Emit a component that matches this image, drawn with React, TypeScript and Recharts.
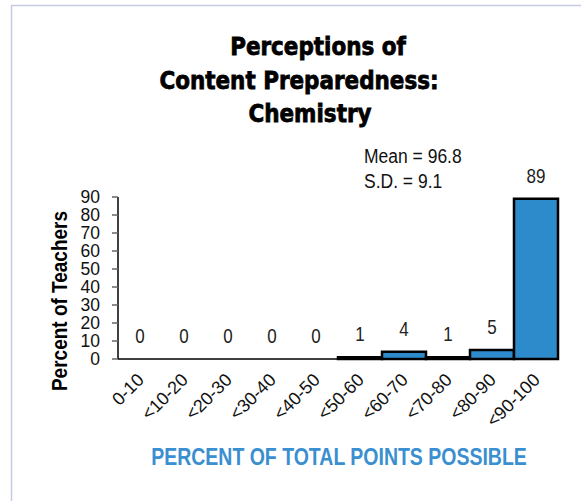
import React from 'react';
import { ComposedChart, Bar, Line, XAxis, YAxis, LabelList } from 'recharts';

const categories = ['0-10', '<10-20', '<20-30', '<30-40', '<40-50', '<50-60', '<60-70', '<70-80', '<80-90', '<90-100'];
const percentTeachers = [0, 0, 0, 0, 0, 1, 4, 1, 5, 89];
const yTicks = [0, 10, 20, 30, 40, 50, 60, 70, 80, 90];
const titleLines = ['Perceptions of', 'Content Preparedness:', 'Chemistry'];
const statLines = ['Mean = 96.8', 'S.D. = 9.1'];
const yLabel = 'Percent of Teachers';
const xLabel = 'PERCENT OF TOTAL POINTS POSSIBLE';

const data = categories.map((c, i) => ({ range: c, value: percentTeachers[i] }));

const FONT = '"Liberation Sans", Arial, sans-serif';
const SY = 1.2;

const XTick = (props: any) => {
  const { x, y, payload } = props;
  const ax = x + 5;
  const ay = y + 14;
  return (
    <text
      x={ax}
      y={ay}
      transform={`rotate(-45, ${ax}, ${ay})`}
      textAnchor="end"
      fontFamily={FONT}
      fontSize={18}
      fill="#111"
    >
      {payload.value}
    </text>
  );
};

const PointValue = (props: any) => {
  const { x, y, value } = props;
  const cx = Number(x);
  const by = Number(y) - 16;
  return (
    <text
      transform={`translate(${cx}, ${by}) scale(1, ${SY})`}
      x={0}
      y={0}
      textAnchor="middle"
      fontFamily={FONT}
      fontSize={17}
      fill="#222"
    >
      {String(value)}
    </text>
  );
};

export default function App() {
  const titleX = [318, 299, 310];
  const titleY = [55, 89, 122];
  return (
    <div style={{ position: 'absolute', left: 0, top: 0, width: 581, height: 501, background: '#fff' }}>
      <ComposedChart
        width={581}
        height={501}
        data={data}
        barCategoryGap={0}
        margin={{ top: 197, right: 23, bottom: 82, left: 0 }}
      >
        <XAxis
          dataKey="range"
          height={60}
          interval={0}
          tickLine={false}
          axisLine={{ stroke: '#000', strokeWidth: 1.3 }}
          tick={<XTick />}
        />
        <YAxis
          width={118}
          domain={[0, 90]}
          ticks={yTicks}
          interval={0}
          tickSize={6}
          tickMargin={12}
          tickLine={{ stroke: '#666', strokeWidth: 1.5 }}
          axisLine={{ stroke: '#000', strokeWidth: 1.5 }}
          tick={{ fontFamily: FONT, fontSize: 17.5, fill: '#111' }}
        />
        <Bar dataKey="value" fill="#2E8BCB" stroke="#000" strokeWidth={2.5} isAnimationActive={false} />
        <Line
          dataKey="value"
          stroke="none"
          dot={false}
          activeDot={false}
          legendType="none"
          isAnimationActive={false}
        >
          <LabelList dataKey="value" content={<PointValue />} />
        </Line>
      </ComposedChart>
      <svg
        width={581}
        height={501}
        style={{ position: 'absolute', left: 0, top: 0, pointerEvents: 'none' }}
      >
        <line x1={11.5} y1={5} x2={11.5} y2={501} stroke="#C4CCE4" strokeWidth={1.5} />
        <line x1={11} y1={5.5} x2={581} y2={5.5} stroke="#C4CCE4" strokeWidth={1.5} />
        {titleLines.map((t, i) => (
          <text
            key={t}
            transform={`translate(${titleX[i]}, ${titleY[i]}) scale(1, 1.15)`}
            x={0}
            y={0}
            textAnchor="middle"
            fontFamily='"DejaVu Sans", sans-serif'
            fontWeight={900}
            fontSize={21.5}
            fill="#000"
            stroke="#000"
            strokeWidth={0.7}
          >
            {t}
          </text>
        ))}
        {statLines.map((t, i) => (
          <text
            key={t}
            transform={`translate(364, ${163 + i * 25}) scale(1, ${SY})`}
            x={0}
            y={0}
            fontFamily={FONT}
            fontSize={17.5}
            fill="#111"
          >
            {t}
          </text>
        ))}
        <text
          x={0}
          y={0}
          transform={`translate(67, 301) rotate(-90) scale(1, ${SY})`}
          textAnchor="middle"
          fontFamily={FONT}
          fontWeight="bold"
          fontSize={19}
          fill="#000"
        >
          {yLabel}
        </text>
        <text
          x={0}
          y={0}
          transform={`translate(339, 465) scale(1, ${SY})`}
          textAnchor="middle"
          fontFamily={FONT}
          fontWeight="bold"
          fontSize={19.5}
          fill="#3A8FD0"
        >
          {xLabel}
        </text>
      </svg>
    </div>
  );
}
